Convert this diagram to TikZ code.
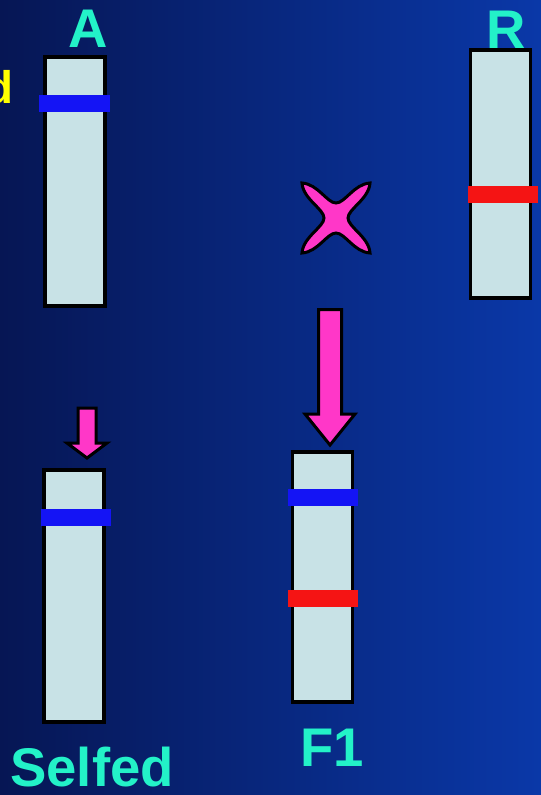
\documentclass[tikz,border=0pt]{standalone}
\usepackage{fontspec}
\setmainfont{Liberation Sans}
\usepackage{tikz}
\usetikzlibrary{positioning}
\definecolor{bgLeft}{RGB}{6,22,84}
\definecolor{bgRight}{RGB}{10,56,168}
\definecolor{chromFill}{RGB}{200,226,230}
\definecolor{bandBlue}{RGB}{20,20,245}
\definecolor{bandRed}{RGB}{245,20,20}
\definecolor{crossPink}{RGB}{255,55,200}
\definecolor{lblCyan}{RGB}{35,242,200}
\definecolor{lblYellow}{RGB}{255,255,0}
\tikzset{
  chrom/.style={rectangle, draw=black, line width=0.07cm, fill=chromFill,
                minimum width=1.21cm, inner sep=0pt},
  band/.style={rectangle, minimum width=1.41cm, minimum height=0.34cm,
               inner sep=0pt},
  bandb/.style={band, fill=bandBlue},
  bandr/.style={band, fill=bandRed},
  blockarr/.style={fill=crossPink, draw=black, line width=0.06cm, line join=miter},
  lbl/.style={text=lblCyan, font=\fontsize{31}{31}\selectfont\bfseries,
              inner sep=0pt, anchor=base},
}

\begin{document}
\begin{tikzpicture}[x=0.02cm, y=-0.02cm]
  \shade[left color=bgLeft, right color=bgRight] (0,0) rectangle (541,795);
  \useasboundingbox (0,0) rectangle (541,795);
  % parents
  \node[chrom, minimum height=4.98cm] (chromA) at (75,181.5) {};
  \node[bandb] (bandA) at (74.5,103.5) {};
  \node[chrom, minimum height=4.96cm] (chromR) at (500.5,174) {};
  \node[bandr] (bandR) at (503,194) {};
  \node[lbl] (lblA) at (88.5,47) {A};
  \node[lbl] (lblR) at (506,48) {R};
  \node[text=lblYellow, font=\fontsize{26}{26}\selectfont\bfseries,
        inner sep=0pt, anchor=base east] (lblD) at (14,103) {d};
  % cross
  \draw[blockarr] (302,183) .. controls (318,184) and (327,203) .. (336,203)
    .. controls (345,203) and (354,184) .. (370,183)
    .. controls (369,199) and (348,209) .. (348,218)
    .. controls (348,227) and (369,237) .. (370,253)
    .. controls (354,252) and (345,233) .. (336,233)
    .. controls (327,233) and (318,252) .. (302,253)
    .. controls (303,237) and (324,227) .. (324,218)
    .. controls (324,209) and (303,199) .. cycle;
  % F1
  \node[chrom, minimum height=5cm] (chromF) at (322.5,577) {};
  \node[bandb] (bandFb) at (323,497) {};
  \node[bandr] (bandFr) at (323,598) {};
  \node[lbl] (lblF) at (332,766) {F1};
  \draw[blockarr] (318.5,309.5) -- (341.5,309.5) -- (341.5,414) -- (355,414)
    -- (330,445) -- (305,414) -- (318.5,414) -- cycle;
  % selfed
  \node[chrom, minimum height=5.04cm] (chromS) at (74,596) {};
  \node[bandb] (bandS) at (76,517) {};
  \node[lbl] (lblS) at (92,786) {Selfed};
  \draw[blockarr] (78,408) -- (96,408) -- (96,443) -- (107,443)
    -- (87,458) -- (67,443) -- (78,443) -- cycle;
\end{tikzpicture}
\end{document}
